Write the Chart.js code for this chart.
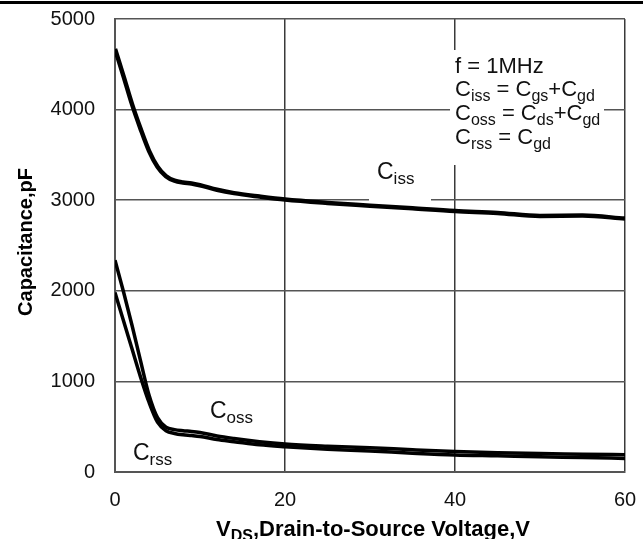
<!DOCTYPE html>
<html>
<head>
<meta charset="utf-8">
<script src="https://cdn.jsdelivr.net/npm/chart.js@4/dist/chart.umd.min.js"></script>
<style>
  html, body { margin: 0; padding: 0; background: #fff; }
  #wrap { width: 643px; height: 539px; position: relative; }
</style>
</head>
<body>
<div id="wrap"><canvas id="cap" width="643" height="539"></canvas></div>
<script>
// drain-source voltage (V) and capacitances (pF)
const vds = [0, 1, 2, 3, 4, 5, 6, 7, 8, 9, 10, 12, 14, 17, 20, 25, 30, 35, 40, 45, 50, 55, 60];
const ciss = [4670, 4370, 4060, 3790, 3545, 3370, 3265, 3215, 3195, 3185, 3165, 3115, 3078, 3040, 3007, 2970, 2940, 2910, 2880, 2860, 2826, 2830, 2797];
const coss = [2337, 1990, 1620, 1230, 850, 600, 495, 468, 456, 448, 436, 398, 370, 335, 309, 285, 268, 245, 225, 212, 203, 197, 190];
const crss = [1981, 1670, 1360, 1050, 770, 550, 455, 425, 410, 402, 392, 358, 335, 300, 279, 252, 232, 208, 188, 178, 167, 160, 150];

const xTicks = [0, 20, 40, 60];
const yTicks = [0, 1000, 2000, 3000, 4000, 5000];

const FONT = `"Liberation Sans", Arial, sans-serif`;

const toPoints = (vals) => vals.map((v, i) => ({x: vds[i], y: v}));

// draw text made of normal and subscript pieces
const drawRich = (ctx, parts, x, y, size, bold) => {
  let cx = x;
  const w = bold ? `bold ` : ``;
  parts.forEach(([txt, sub]) => {
    const fs = sub ? Math.round(size * 0.72) : size;
    ctx.font = `${w}${fs}px ${FONT}`;
    ctx.fillText(txt, cx, sub ? y + size * 0.22 : y);
    cx += ctx.measureText(txt).width;
  });
  return cx - x;
};

const richWidth = (ctx, parts, size, bold) => {
  let total = 0;
  const w = bold ? `bold ` : ``;
  parts.forEach(([txt, sub]) => {
    const fs = sub ? Math.round(size * 0.72) : size;
    ctx.font = `${w}${fs}px ${FONT}`;
    total += ctx.measureText(txt).width;
  });
  return total;
};

const notes = {
  id: `notes`,
  beforeDraw(chart) {
    const ctx = chart.ctx;
    ctx.save();
    ctx.fillStyle = `#000`;
    ctx.fillRect(0, 1, 643, 3);
    ctx.restore();
  },
  beforeDatasetsDraw(chart) {
    const ctx = chart.ctx;
    ctx.save();
    // white patches where the grid is cut for labels
    ctx.fillStyle = `#fff`;
    ctx.fillRect(450, 50, 154, 115);
    ctx.fillRect(369, 155, 62, 50);

    ctx.fillStyle = `#111`;
    ctx.textBaseline = `alphabetic`;
    ctx.textAlign = `left`;
    const s = 22;
    drawRich(ctx, [[`f = 1MHz`, false]], 455, 73, s, false);
    drawRich(ctx, [[`C`, false], [`iss`, true], [` = C`, false], [`gs`, true], [`+C`, false], [`gd`, true]], 455, 96, s, false);
    drawRich(ctx, [[`C`, false], [`oss`, true], [` = C`, false], [`ds`, true], [`+C`, false], [`gd`, true]], 455, 120, s, false);
    drawRich(ctx, [[`C`, false], [`rss`, true], [` = C`, false], [`gd`, true]], 455, 144, s, false);

    drawRich(ctx, [[`C`, false], [`iss`, true]], 377, 179, 23, false);
    drawRich(ctx, [[`C`, false], [`oss`, true]], 210, 418, 23, false);
    drawRich(ctx, [[`C`, false], [`rss`, true]], 133, 460, 23, false);
    ctx.restore();
  },
  afterDraw(chart) {
    const ctx = chart.ctx;
    ctx.save();
    ctx.fillStyle = `#000`;
    ctx.textBaseline = `alphabetic`;
    // x title with subscript
    const xt = [[`V`, false], [`DS`, true], [`,Drain-to-Source Voltage,V`, false]];
    const xw = richWidth(ctx, xt, 22, true);
    drawRich(ctx, xt, 373 - xw / 2, 536, 22, true);
    // y title
    ctx.translate(32, 242);
    ctx.rotate(-Math.PI / 2);
    ctx.textAlign = `center`;
    ctx.font = `bold 20px ${FONT}`;
    ctx.fillText(`Capacitance,pF`, 0, 0);
    ctx.restore();
  }
};

const lineStyle = (label, vals, width) => ({
  label,
  data: toPoints(vals),
  borderColor: `#000`,
  borderWidth: width,
  pointRadius: 0,
  fill: false,
  cubicInterpolationMode: `monotone`
});

new Chart(document.getElementById(`cap`), {
  type: `line`,
  data: {
    datasets: [
      lineStyle(`Ciss`, ciss, 4.5),
      lineStyle(`Coss`, coss, 3.5),
      lineStyle(`Crss`, crss, 3.5)
    ]
  },
  options: {
    responsive: false,
    animation: false,
    events: [],
    layout: {padding: {top: 19, right: 18, bottom: 0, left: 0}},
    plugins: {legend: {display: false}, tooltip: {enabled: false}},
    scales: {
      x: {
        type: `linear`,
        min: 0,
        max: 60,
        afterBuildTicks: (scale) => {
          scale.ticks = xTicks.map((v) => ({value: v}));
        },
        afterFit: (scale) => {
          scale.height = 67;
          scale.paddingLeft = 0;
          scale.paddingRight = 0;
        },
        grid: {color: `#3a3a3a`, lineWidth: 1.5, drawTicks: false},
        border: {color: `#555`, width: 2},
        ticks: {color: `#111`, padding: 16, font: {family: FONT, size: 20}, maxRotation: 0, callback: (v) => String(v)}
      },
      y: {
        min: 0,
        max: 5000,
        afterBuildTicks: (scale) => {
          scale.ticks = yTicks.map((v) => ({value: v}));
        },
        afterFit: (scale) => {
          scale.width = 115;
          scale.paddingTop = 0;
          scale.paddingBottom = 0;
        },
        grid: {color: `#555`, lineWidth: 1.5, drawTicks: false},
        border: {color: `#555`, width: 2},
        ticks: {color: `#111`, padding: 20, font: {family: FONT, size: 20}, callback: (v) => String(v)}
      }
    }
  },
  plugins: [notes]
});
</script>
</body>
</html>
